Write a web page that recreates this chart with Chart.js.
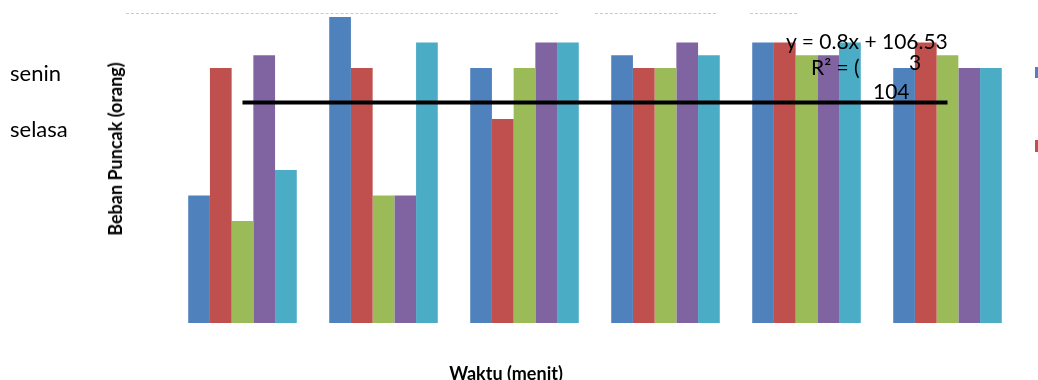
<!DOCTYPE html>
<html lang="id">
<head>
<meta charset="utf-8">
<title>Beban Puncak</title>
<script src="https://cdn.jsdelivr.net/npm/chart.js@4.4.0/dist/chart.umd.min.js"></script>
<style>
  body { margin: 0; background: #fff; }
  #wadah { position: relative; width: 1038px; height: 380px; overflow: hidden; font-family: Lato, "Open Sans", sans-serif; color: #000; }
  #grafik { position: absolute; left: 0; top: 0; }
  .teks { position: absolute; white-space: nowrap; line-height: 1; transform: translateY(-50%); }
  .garis-pink { position: absolute; top: 13px; height: 0; border-top: 1px dashed #f6b3c1; }
  .kotak { position: absolute; left: 1035px; width: 10px; }
</style>
</head>
<body>
<div id="wadah">
  <canvas id="grafik" width="1038" height="380"></canvas>

  <div class="garis-pink" style="left:126px;width:432px"></div>
  <div class="garis-pink" style="left:595px;width:121px"></div>
  <div class="garis-pink" style="left:750px;width:47px"></div>

  <div class="teks" style="left:10px;top:73px;font-size:22px">senin</div>
  <div class="teks" style="left:10px;top:129px;font-size:22px">selasa</div>

  <div class="teks" style="left:115px;top:149px;font-size:18px;font-weight:bold;transform:translate(-50%,-50%) rotate(-90deg)">Beban Puncak (orang)</div>
  <div class="teks" style="left:506px;top:373px;font-size:18px;font-weight:bold;transform:translate(-50%,-50%)">Waktu (menit)</div>

  <div class="teks" style="left:786px;top:40px;font-size:21px">y = 0.8x + 106.53</div>
  <div class="teks" style="left:811px;top:66px;font-size:21px">R² = (</div>
  <div class="teks" style="left:909px;top:61px;font-size:21px">3</div>
  <div class="teks" style="left:873px;top:90px;font-size:21px">104</div>

  <div class="kotak" style="top:67px;height:11px;background:#4F81BD"></div>
  <div class="kotak" style="top:140px;height:12px;background:#C0504D"></div>
</div>

<script>
// data
const kategori = ["1", "2", "3", "4", "5", "6"];
const namaSeri = ["senin", "selasa", "rabu", "kamis", "jumat"];
const seriSenin  = [97, 111, 107, 108, 109, 107];
const seriSelasa = [107, 107, 103, 107, 109, 109];
const seriRabu   = [95, 97, 107, 107, 108, 108];
const seriKamis  = [108, 97, 109, 109, 108, 107];
const seriJumat  = [99, 109, 109, 108, 109, 107];
const garisTren  = [104.3, 104.3, 104.3, 104.3, 104.3, 104.3];
const sumbuYMin = 87;
const sumbuYMax = 111;

const warna = ["#4F81BD", "#C0504D", "#9BBB59", "#8064A2", "#4BACC6"];

function buatGrafik() {
  const semuaSeri = [seriSenin, seriSelasa, seriRabu, seriKamis, seriJumat];

  const datasetBatang = semuaSeri.map((nilai, i) => ({
    type: "bar",
    label: namaSeri[i],
    data: nilai,
    backgroundColor: warna[i],
    borderWidth: 0,
    categoryPercentage: 0.77,
    barPercentage: 1.0,
    order: 1
  }));

  const datasetTren = {
    type: "line",
    label: "tren",
    data: garisTren,
    borderColor: "#000",
    borderWidth: 4,
    pointRadius: 0,
    fill: false,
    order: 0
  };

  new Chart(document.getElementById("grafik"), {
    type: "bar",
    data: {
      labels: kategori,
      datasets: [...datasetBatang, datasetTren]
    },
    options: {
      responsive: false,
      animation: false,
      devicePixelRatio: 1,
      layout: { padding: { left: 172, right: 20, top: 17, bottom: 57 } },
      plugins: {
        legend: { display: false },
        tooltip: { enabled: false }
      },
      scales: {
        x: { display: false, offset: true },
        y: { display: false, min: sumbuYMin, max: sumbuYMax }
      }
    }
  });
}

document.addEventListener("DOMContentLoaded", buatGrafik);
</script>
</body>
</html>
